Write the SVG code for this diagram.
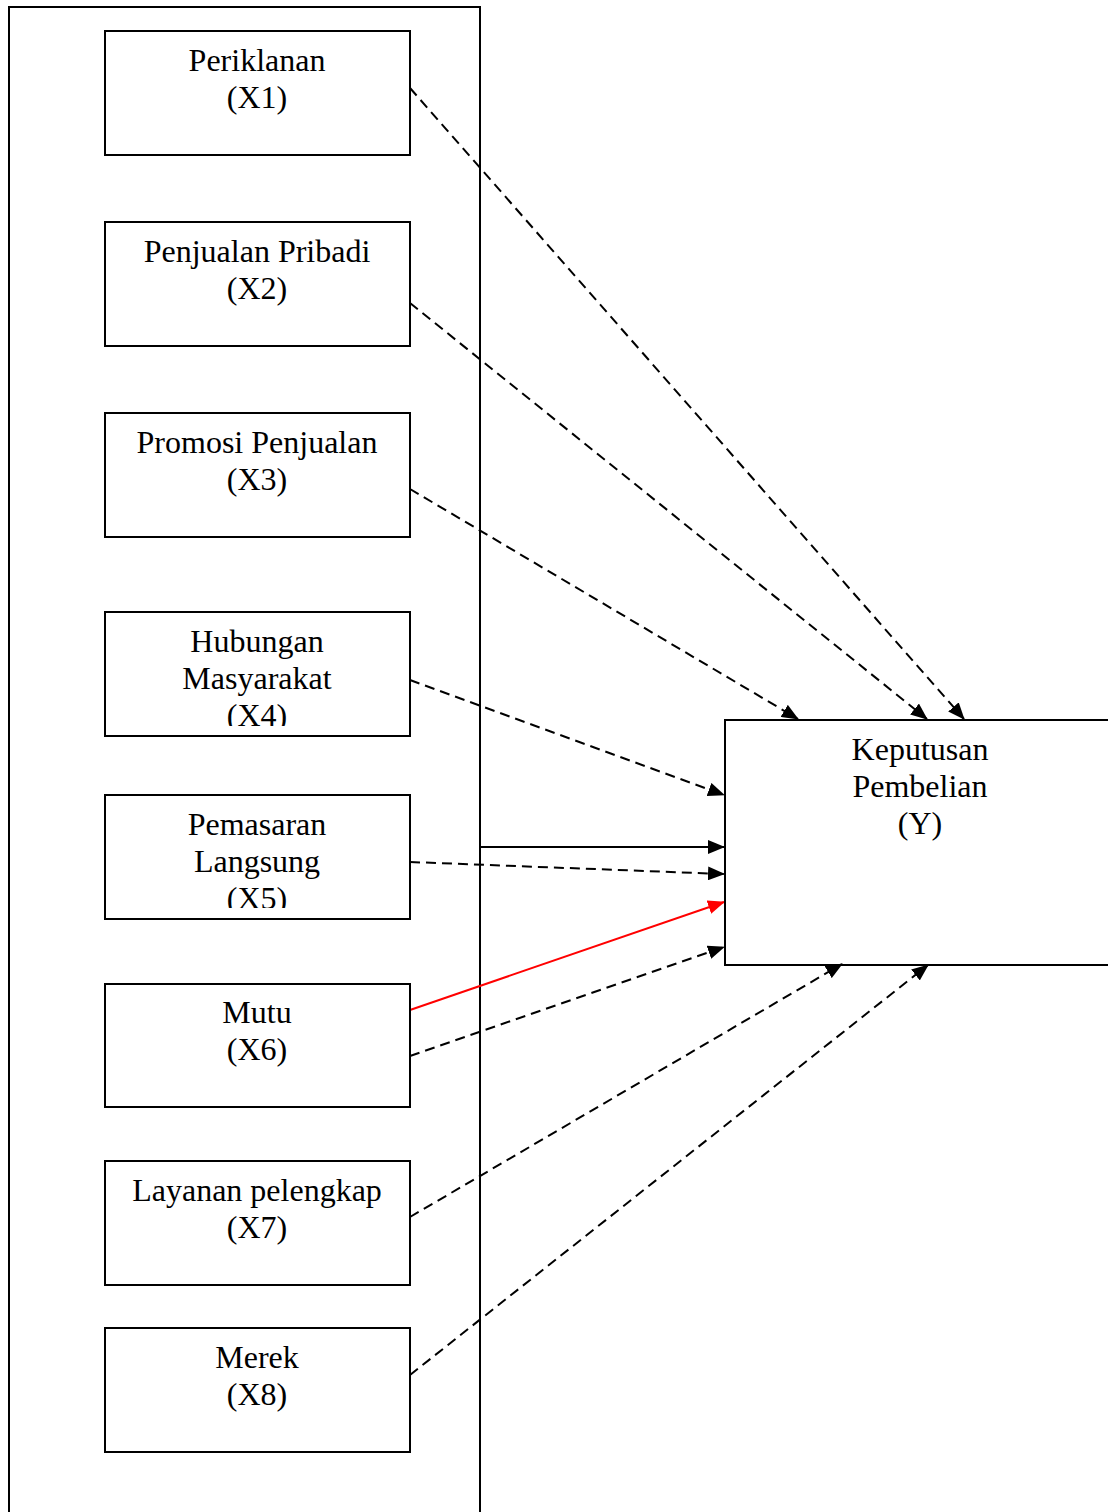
<svg xmlns="http://www.w3.org/2000/svg" width="1108" height="1512" viewBox="0 0 1108 1512">
<style>
.box{fill:#fff;stroke:#000;stroke-width:2}
.t{font-family:"Liberation Serif","Times New Roman",serif;font-size:32px;fill:#000;text-anchor:middle}
.d{fill:none;stroke:#000;stroke-width:2;stroke-dasharray:10,6}
.s{fill:none;stroke:#000;stroke-width:2}
.r{fill:none;stroke:#f00;stroke-width:2}
</style>
<defs>
<marker id="ah" markerUnits="userSpaceOnUse" markerWidth="17" markerHeight="14" refX="16" refY="7" orient="auto"><path d="M0,0 L17,7 L0,14 z" fill="#000"/></marker>
<marker id="ahr" markerUnits="userSpaceOnUse" markerWidth="17" markerHeight="14" refX="16" refY="7" orient="auto"><path d="M0,0 L17,7 L0,14 z" fill="#f00"/></marker>
<clipPath id="c4"><rect x="100" y="600" width="320" height="126"/></clipPath>
<clipPath id="c5"><rect x="100" y="780" width="320" height="128"/></clipPath>
</defs>
<rect x="9" y="7" width="471" height="1520" fill="none" stroke="#000" stroke-width="2"/>
<g id="connectors">
<line class="d" x1="410" y1="88" x2="964" y2="719" marker-end="url(#ah)"/>
<line class="d" x1="410" y1="303" x2="927" y2="719" marker-end="url(#ah)"/>
<line class="d" x1="410" y1="489" x2="798" y2="719" marker-end="url(#ah)"/>
<line class="d" x1="410" y1="680" x2="724" y2="795" marker-end="url(#ah)"/>
<line class="s" x1="480" y1="847" x2="724" y2="847" marker-end="url(#ah)"/>
<line class="d" x1="410" y1="862" x2="724" y2="874" marker-end="url(#ah)"/>
<line class="r" x1="410" y1="1010" x2="724" y2="902" marker-end="url(#ahr)"/>
<line class="d" x1="410" y1="1056" x2="724" y2="947" marker-end="url(#ah)"/>
<line class="d" x1="410" y1="1217" x2="842" y2="964" marker-end="url(#ah)"/>
<line class="d" x1="410" y1="1375" x2="928" y2="965" marker-end="url(#ah)"/>
</g>
<g id="x1"><rect class="box" x="105" y="31" width="305" height="124"/><text class="t" x="257" y="71">Periklanan</text><text class="t" x="257" y="108">(X1)</text></g>
<g id="x2"><rect class="box" x="105" y="222" width="305" height="124"/><text class="t" x="257" y="262">Penjualan Pribadi</text><text class="t" x="257" y="299">(X2)</text></g>
<g id="x3"><rect class="box" x="105" y="413" width="305" height="124"/><text class="t" x="257" y="453">Promosi Penjualan</text><text class="t" x="257" y="490">(X3)</text></g>
<g id="x4"><rect class="box" x="105" y="612" width="305" height="124"/><g clip-path="url(#c4)"><text class="t" x="257" y="652">Hubungan</text><text class="t" x="257" y="689">Masyarakat</text><text class="t" x="257" y="726">(X4)</text></g></g>
<g id="x5"><rect class="box" x="105" y="795" width="305" height="124"/><g clip-path="url(#c5)"><text class="t" x="257" y="835">Pemasaran</text><text class="t" x="257" y="872">Langsung</text><text class="t" x="257" y="909">(X5)</text></g></g>
<g id="x6"><rect class="box" x="105" y="984" width="305" height="123"/><text class="t" x="257" y="1023">Mutu</text><text class="t" x="257" y="1060">(X6)</text></g>
<g id="x7"><rect class="box" x="105" y="1161" width="305" height="124"/><text class="t" x="257" y="1201">Layanan pelengkap</text><text class="t" x="257" y="1238">(X7)</text></g>
<g id="x8"><rect class="box" x="105" y="1328" width="305" height="124"/><text class="t" x="257" y="1368">Merek</text><text class="t" x="257" y="1405">(X8)</text></g>
<g id="y"><rect x="725" y="720" width="400" height="245" fill="none" stroke="#000" stroke-width="2"/><text class="t" x="920" y="760">Keputusan</text><text class="t" x="920" y="797">Pembelian</text><text class="t" x="920" y="834">(Y)</text></g>
</svg>
